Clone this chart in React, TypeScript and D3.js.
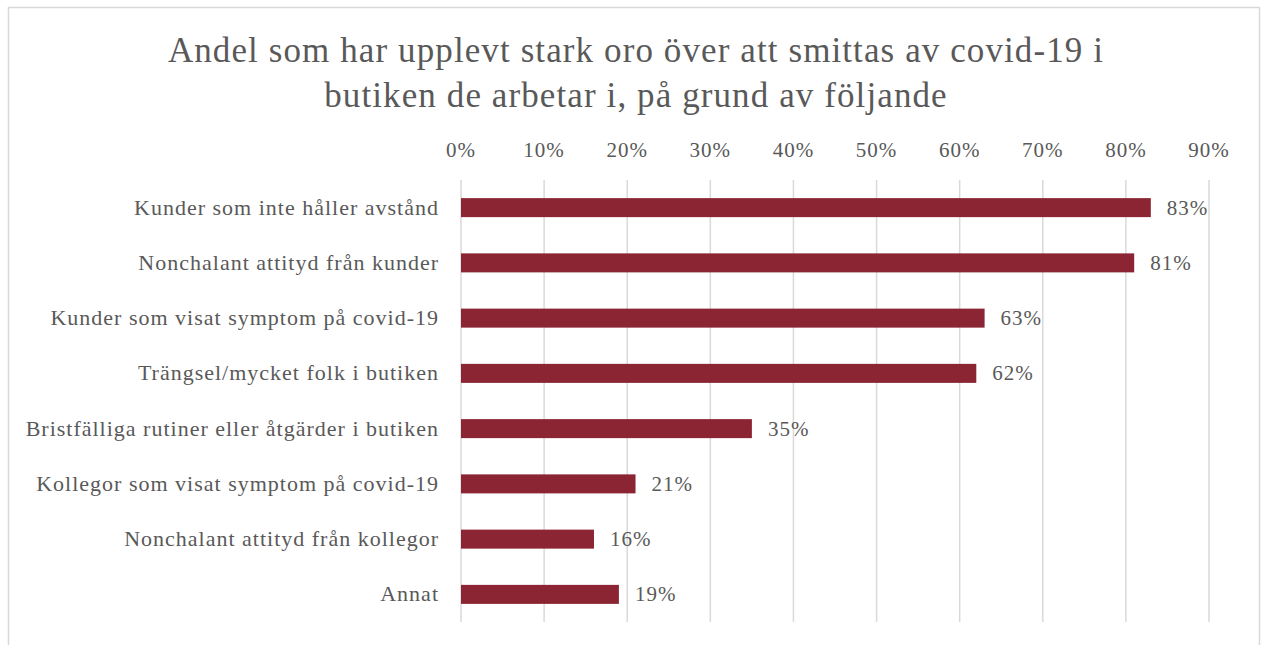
import React from 'react';
import * as d3 from 'd3';

const categories = [
  'Kunder som inte håller avstånd',
  'Nonchalant attityd från kunder',
  'Kunder som visat symptom på covid-19',
  'Trängsel/mycket folk i butiken',
  'Bristfälliga rutiner eller åtgärder i butiken',
  'Kollegor som visat symptom på covid-19',
  'Nonchalant attityd från kollegor',
  'Annat',
];
const values = [0.83, 0.81, 0.63, 0.62, 0.35, 0.21, 0.16, 0.19];
const ticks = [0, 0.1, 0.2, 0.3, 0.4, 0.5, 0.6, 0.7, 0.8, 0.9];
const titleLines = [
  'Andel som har upplevt stark oro över att smittas av covid-19 i',
  'butiken de arbetar i, på grund av följande',
];

const FONT = '"Liberation Serif", "DejaVu Serif", serif';
const TEXT = '#595959';
const BAR = '#8B2533';

export default function App() {
  const width = 1262;
  const height = 645;
  const plot = { left: 461, right: 1209, top: 180, bottom: 622 };

  const x = d3.scaleLinear().domain([0, 0.9]).range([plot.left, plot.right]);
  const y = d3
    .scaleBand<string>()
    .domain(categories)
    .range([plot.top, plot.bottom])
    .paddingInner(0.656)
    .paddingOuter(0.328);
  const pct = d3.format('.0%');

  return (
    <svg
      width={width}
      height={height}
      style={{ position: 'absolute', left: 0, top: 0, fontFamily: FONT }}
    >
      <rect x={0} y={0} width={width} height={height} fill="#fff" />
      <rect x={8.5} y={7.5} width={1251} height={660} fill="#fff" stroke="#d9d9d9" strokeWidth={1.5} />

      {/* title */}
      {titleLines.map((t, i) => (
        <text
          key={i}
          x={636}
          y={62 + i * 45}
          textAnchor="middle"
          fontSize={35}
          letterSpacing={1.1}
          fill={TEXT}
        >
          {t}
        </text>
      ))}

      {/* gridlines + tick labels */}
      {ticks.map((t) => (
        <g key={t}>
          <line
            x1={x(t)}
            x2={x(t)}
            y1={plot.top}
            y2={plot.bottom}
            stroke="#d9d9d9"
            strokeWidth={1.5}
          />
          <text x={x(t)} y={157} textAnchor="middle" fontSize={21} letterSpacing={1} fill={TEXT}>
            {pct(t)}
          </text>
        </g>
      ))}

      {/* bars */}
      {categories.map((c, i) => {
        const cy = (y(c) as number) + y.bandwidth() / 2;
        return (
          <g key={c}>
            <rect
              x={x(0)}
              y={y(c)}
              width={x(values[i]) - x(0)}
              height={y.bandwidth()}
              fill={BAR}
            />
            <text
              x={plot.left - 22}
              y={cy + 7}
              textAnchor="end"
              fontSize={22}
              letterSpacing={1}
              fill={TEXT}
            >
              {c}
            </text>
            <text
              x={x(values[i]) + 16}
              y={cy + 7}
              fontSize={21}
              letterSpacing={1}
              fill={TEXT}
            >
              {pct(values[i])}
            </text>
          </g>
        );
      })}
    </svg>
  );
}
